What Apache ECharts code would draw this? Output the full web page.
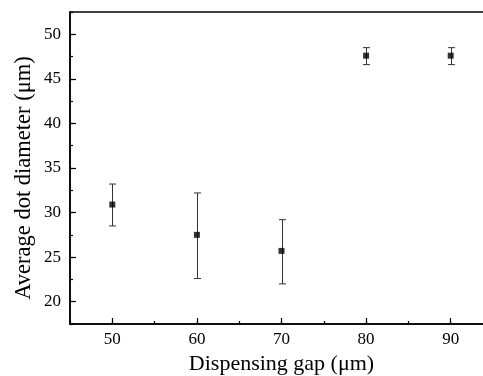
<!DOCTYPE html>
<html>
<head>
<meta charset="utf-8">
<script src="https://cdn.jsdelivr.net/npm/echarts@6/dist/echarts.min.js"></script>
<style>
  html, body { margin: 0; padding: 0; background: #fff; }
  #chart { width: 483px; height: 376px; }
</style>
</head>
<body>
<div id="chart"></div>
<script>
// gap (µm) vs. average dot diameter (µm), with error bar ends
const gaps = [50, 60, 70, 80, 90]
const meanDiameter = [30.9, 27.5, 25.7, 47.6, 47.6]
const lowerBound = [28.5, 22.6, 22.0, 46.6, 46.6]
const upperBound = [33.2, 32.2, 29.2, 48.5, 48.5]

const FONT = "Liberation Serif"

const chart = echarts.init(document.getElementById("chart"))

const minorAxis = (min, max, step) => ({
  type: "value",
  min,
  max,
  interval: step,
  axisLine: { show: true, lineStyle: { color: "#000", width: 1.5 } },
  axisTick: { show: true, inside: true, length: 3, lineStyle: { color: "#000", width: 1.2 } },
  axisLabel: { show: false },
  splitLine: { show: false },
})

const majorAxis = (min, max, step, margin) => ({
  type: "value",
  min,
  max,
  minInterval: step,
  maxInterval: step,
  axisLine: { show: false },
  axisTick: { show: true, inside: true, length: 6, lineStyle: { color: "#000", width: 1.2 } },
  axisLabel: {
    show: true,
    showMinLabel: false,
    showMaxLabel: false,
    margin,
    fontFamily: FONT,
    fontSize: 17,
    color: "#000",
  },
  splitLine: { show: false },
})

const option = {
  animation: false,
  backgroundColor: "#fff",
  grid: {
    left: 70,
    top: 12,
    width: 423,
    height: 312,
    outerBoundsMode: "none",
    show: true,
    borderColor: "#000",
    borderWidth: 1.5,
  },
  xAxis: [
    { ...minorAxis(45, 95, 5), position: "bottom" },
    {
      ...majorAxis(45, 95, 10, 7),
      position: "bottom",
      name: "Dispensing gap (μm)",
      nameLocation: "middle",
      nameGap: 27,
      nameTextStyle: { fontFamily: FONT, fontSize: 22, color: "#000" },
    },
  ],
  yAxis: [
    { ...minorAxis(17.5, 52.5, 2.5), position: "left" },
    { ...majorAxis(17.5, 52.5, 5, 9), position: "left" },
  ],
  graphic: [
    {
      type: "text",
      x: 24,
      y: 178,
      rotation: Math.PI / 2,
      style: {
        text: "Average dot diameter (μm)",
        font: `22.5px "${FONT}"`,
        fill: "#000",
        align: "center",
        verticalAlign: "middle",
      },
    },
  ],
  series: [
    {
      type: "custom",
      xAxisIndex: 0,
      yAxisIndex: 0,
      data: gaps.map((g, i) => [g, lowerBound[i], upperBound[i]]),
      renderItem: (params, api) => {
        const lo = api.coord([api.value(0), api.value(1)])
        const hi = api.coord([api.value(0), api.value(2)])
        const x = Math.round(lo[0]) + 0.5
        const w = 3.5
        const style = { stroke: "#333", lineWidth: 1 }
        return {
          type: "group",
          children: [
            { type: "line", shape: { x1: x, y1: lo[1], x2: x, y2: hi[1] }, style },
            { type: "line", shape: { x1: x - w, y1: lo[1], x2: x + w, y2: lo[1] }, style },
            { type: "line", shape: { x1: x - w, y1: hi[1], x2: x + w, y2: hi[1] }, style },
          ],
        }
      },
      z: 2,
    },
    {
      type: "scatter",
      xAxisIndex: 0,
      yAxisIndex: 0,
      data: gaps.map((g, i) => [g, meanDiameter[i]]),
      symbol: "rect",
      symbolSize: 6,
      itemStyle: { color: "#000" },
      z: 3,
    },
  ],
}

chart.setOption(option)
</script>
</body>
</html>
